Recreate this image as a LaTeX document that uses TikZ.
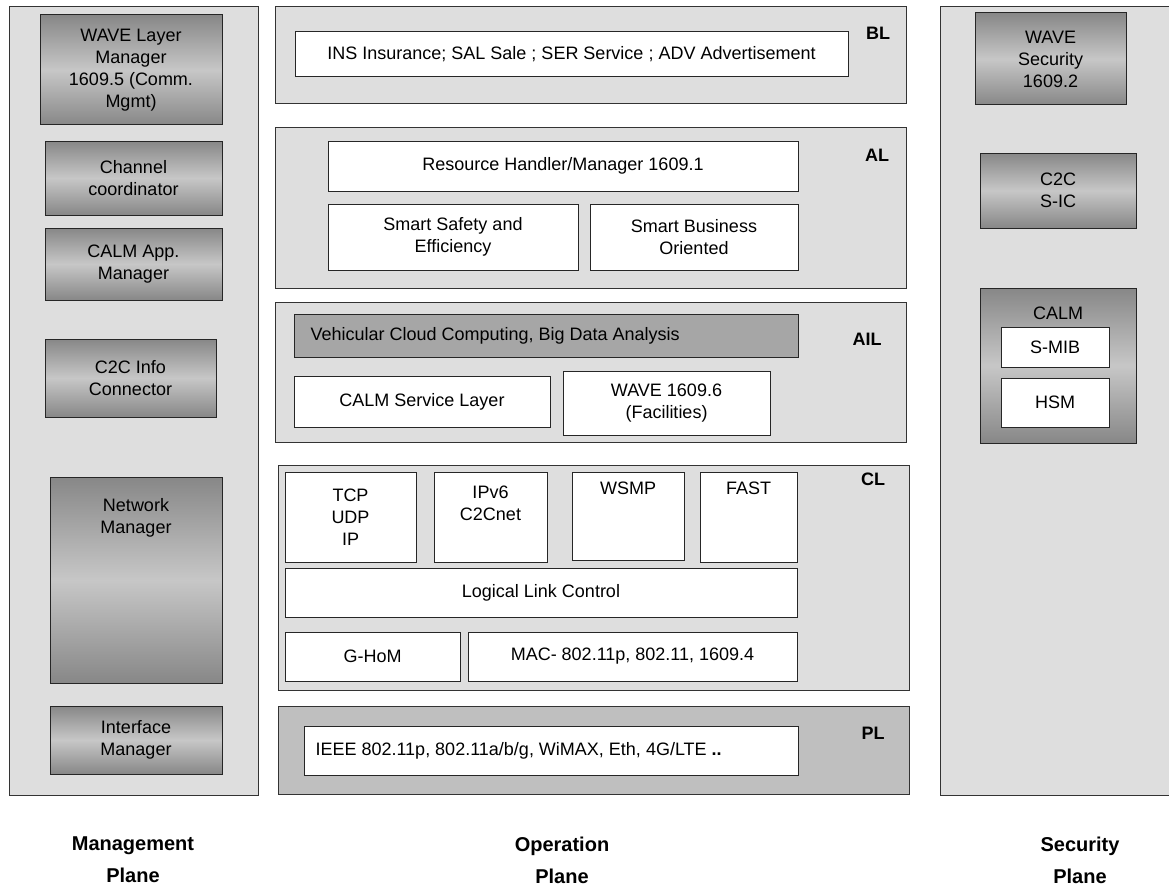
\documentclass[tikz,border=0pt]{standalone}
\usepackage{fontspec}
\setmainfont{Liberation Sans}
\tikzset{every picture/.style={line width=1pt}}
\tikzset{
  plane/.style={draw=black!80, fill=black!13},
  whitebox/.style={draw=black!85, fill=white, align=center, inner sep=0pt},
  shadebox/.style={draw=black!85, align=center, inner sep=0pt, top color=black!47, bottom color=black!47, middle color=black!22},
  darkbox/.style={draw=black!85, fill=black!35, inner sep=0pt},
  tag/.style={font=\fontsize{18}{20}\selectfont\bfseries},
  caption/.style={align=center, font=\fontsize{20}{32}\selectfont\bfseries},
  txt/.style={align=center, inner sep=0pt}
}

\begin{document}
\begin{tikzpicture}[x=1pt,y=1pt,yscale=-1,xscale=1,font=\fontsize{18}{22}\selectfont]
\useasboundingbox (0,0) rectangle (1169,888);

%Shape: Rectangle [management plane]
\draw [plane] (9,7) rectangle (258,795) ;
%Shape: Rectangle [operation layers]
\draw [plane] (275,7) rectangle (906,104) ;
\draw [plane] (275,128) rectangle (906,288) ;
\draw [plane] (275,302) rectangle (906,442) ;
\draw [plane] (278,465) rectangle (909,690) ;
\draw [plane, fill=black!25] (278,706) rectangle (909,794) ;
%Shape: Rectangle [security plane]
\fill [black!13] (940,7) rectangle (1169,795) ;
\draw [draw=black!80] (1169,7) -- (940,7) -- (940,795) -- (1169,795) ;

% Management plane boxes
\node [shadebox, minimum width=182, minimum height=110] (wlm) at (131,70) {WAVE Layer\\Manager\\1609.5 (Comm.\\Mgmt)};
\node [shadebox, minimum width=177, minimum height=74] (chan) at (133.5,178) {Channel\\coordinator};
\node [shadebox, minimum width=177, minimum height=72] (calmapp) at (133.5,264) {CALM App.\\Manager};
\node [shadebox, minimum width=171, minimum height=78] (c2cinfo) at (130.5,378) {C2C Info\\Connector};
\node [shadebox, minimum width=172, minimum height=206] (netmgr) at (136,580) {};
\node [txt, anchor=north] (netmgrtxt) at (136,498) {Network\\Manager};
\node [shadebox, minimum width=172, minimum height=68] (ifmgr) at (136,740) {Interface\\Manager};

% BL
\node [whitebox, minimum width=553, minimum height=45] (business) at (571.5,54.5) {INS Insurance; SAL Sale ; SER Service ; ADV Advertisement};
\node [tag] (bl) at (878,33) {BL};

% AL
\node [whitebox, minimum width=470, minimum height=50] (resource) at (563,166) {Resource Handler/Manager 1609.1};
\node [whitebox, minimum width=250, minimum height=66] (safety) at (453,237) {Smart Safety and\\Efficiency};
\node [whitebox, minimum width=208, minimum height=66] (busoriented) at (694,237) {Smart Business\\Oriented};
\node [tag] (al) at (877,155) {AL};

% AIL
\node [darkbox, minimum width=504, minimum height=43] (cloud) at (546,335.5) {};
\node [txt, anchor=west] (cloudtxt) at (310,335.5) {Vehicular Cloud Computing, Big Data Analysis};
\node [whitebox, minimum width=256, minimum height=51] (calmservice) at (422,401.5) {CALM Service Layer};
\node [whitebox, minimum width=207, minimum height=64] (facilities) at (666.5,403) {WAVE 1609.6\\(Facilities)};
\node [tag] (ail) at (867,339) {AIL};

% CL
\node [whitebox, minimum width=131, minimum height=90] (tcp) at (350.5,517) {TCP\\UDP\\IP};
\node [whitebox, minimum width=113, minimum height=90] (ipv6) at (490.5,517) {};
\node [txt, anchor=north] (ipv6txt) at (490.5,485) {IPv6\\C2Cnet};
\node [whitebox, minimum width=112, minimum height=88] (wsmp) at (628,516) {};
\node [txt, anchor=north] (wsmptxt) at (628,481) {WSMP};
\node [whitebox, minimum width=97, minimum height=90] (fast) at (748.5,517) {};
\node [txt, anchor=north] (fasttxt) at (748.5,481) {FAST};
\node [whitebox, minimum width=512, minimum height=49] (llc) at (541,592.5) {Logical Link Control};
\node [whitebox, minimum width=175, minimum height=49] (ghom) at (372.5,656.5) {G-HoM};
\node [whitebox, minimum width=329, minimum height=49] (mac) at (632.5,656.5) {MAC- 802.11p, 802.11, 1609.4};
\node [tag] (cl) at (873,479) {CL};

% PL
\node [whitebox, minimum width=494, minimum height=49] (phy) at (551,750.5) {};
\node [txt, anchor=west] (phytxt) at (315,750.5) {IEEE 802.11p, 802.11a/b/g, WiMAX, Eth, 4G/LTE \textbf{..}};
\node [tag] (pl) at (873,733) {PL};

% Security plane boxes
\node [shadebox, minimum width=151, minimum height=92] (wsec) at (1050.5,59) {WAVE\\Security\\1609.2};
\node [shadebox, minimum width=156, minimum height=75] (sic) at (1058,190.5) {C2C\\S-IC};
\node [shadebox, minimum width=156, minimum height=155] (calmsec) at (1058,365.5) {};
\node [txt, anchor=north] (calmsectxt) at (1058,306) {CALM};
\node [whitebox, minimum width=108, minimum height=40] (smib) at (1055,347) {S-MIB};
\node [whitebox, minimum width=108, minimum height=49] (hsm) at (1055,402.5) {HSM};

% Plane captions
\node [caption] (mgmtplane) at (133,860) {Management\\Plane};
\node [caption] (opplane) at (562,860) {Operation\\Plane};
\node [caption] (secplane) at (1080,860) {Security\\Plane};

\end{tikzpicture}
\end{document}
